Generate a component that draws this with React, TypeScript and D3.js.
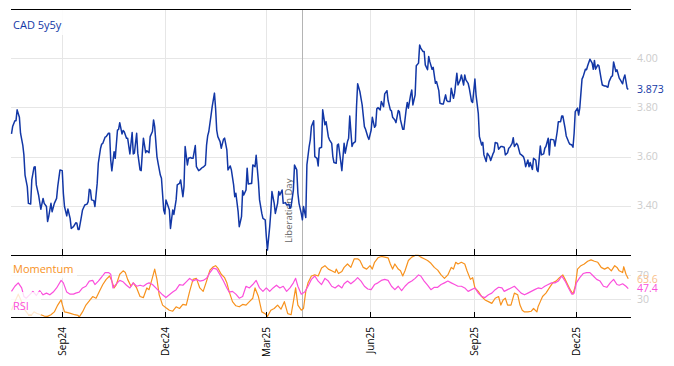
import React from "react";
import * as d3 from "d3";

// Day offsets are counted from BASE_DATE (2024-09-01)
const BASE_DATE = "2024-09-01";

const cad5y5y: [number, number][] = [
  [-45,3.692],[-44,3.722],[-42,3.746],[-41,3.746],[-40,3.790],[-38,3.760],[-37,3.695],[-35,3.647],[-34,3.607],[-33,3.525],[-31,3.478],[-30,3.410],[-28,3.407],[-27,3.505],[-25,3.557],[-24,3.559],[-23,3.485],[-21,3.444],[-19,3.386],[-17,3.430],[-16,3.410],[-14,3.397],[-13,3.336],[-12,3.356],[-10,3.410],[-9,3.376],[-7,3.410],[-5,3.430],[-4,3.478],[-2,3.546],[0,3.543],[1,3.451],[2,3.397],[4,3.359],[5,3.387],[7,3.349],[8,3.308],[10,3.315],[12,3.331],[13,3.329],[14,3.304],[15,3.304],[17,3.356],[18,3.383],[20,3.403],[22,3.407],[23,3.417],[24,3.467],[25,3.464],[26,3.424],[28,3.421],[29,3.397],[31,3.491],[32,3.573],[34,3.634],[35,3.651],[36,3.654],[38,3.679],[39,3.681],[41,3.695],[42,3.695],[43,3.586],[44,3.542],[46,3.620],[47,3.593],[49,3.708],[50,3.711],[51,3.738],[53,3.692],[54,3.706],[55,3.701],[57,3.675],[58,3.675],[60,3.611],[62,3.698],[63,3.611],[64,3.614],[66,3.695],[67,3.614],[69,3.546],[70,3.543],[71,3.614],[72,3.675],[74,3.616],[75,3.624],[77,3.616],[78,3.681],[80,3.702],[81,3.749],[82,3.722],[84,3.600],[85,3.573],[87,3.525],[88,3.512],[90,3.383],[91,3.367],[92,3.424],[94,3.397],
  [95,3.383],[96,3.308],[98,3.383],[99,3.365],[101,3.424],[102,3.485],[104,3.491],[105,3.505],[107,3.437],[108,3.478],[109,3.641],[111,3.566],[112,3.593],[114,3.596],[115,3.593],[116,3.593],[118,3.645],[119,3.559],[121,3.543],[122,3.546],[124,3.555],[125,3.557],[127,3.566],[128,3.647],[129,3.684],[130,3.702],[132,3.769],[133,3.803],[135,3.858],[136,3.797],[137,3.708],[138,3.681],[140,3.661],[141,3.634],[143,3.670],[144,3.675],[146,3.627],[147,3.546],[149,3.562],[150,3.546],[152,3.485],[153,3.437],[154,3.451],[156,3.376],[157,3.315],[159,3.356],[160,3.461],[161,3.444],[163,3.464],[164,3.553],[165,3.489],[167,3.491],[168,3.491],[169,3.566],[171,3.559],[172,3.605],[174,3.498],[175,3.424],[177,3.369],[178,3.349],[180,3.343],[181,3.275],[182,3.220],[184,3.315],[185,3.376],[186,3.458],[188,3.410],[189,3.369],[191,3.410],[192,3.458],[193,3.444],[195,3.464],[196,3.410],[198,3.413],[199,3.403],[201,3.407],[202,3.390],[203,3.399],[205,3.464],[206,3.566],[208,3.546],[209,3.451],[210,3.410],[212,3.369],[213,3.343],[214,3.397],[216,3.352],[217,3.566],[219,3.641],[220,3.668],[221,3.722],[223,3.746],[224,3.600],[226,3.593],[227,3.562],[228,3.634],[230,3.638],[231,3.790],[233,3.729],
  [234,3.742],[236,3.681],[237,3.668],[239,3.654],[240,3.600],[241,3.576],[243,3.573],[244,3.647],[245,3.651],[247,3.580],[248,3.543],[250,3.654],[251,3.614],[253,3.661],[254,3.675],[255,3.765],[257,3.641],[258,3.654],[260,3.661],[261,3.803],[262,3.896],[264,3.864],[265,3.837],[266,3.810],[268,3.722],[269,3.711],[271,3.681],[272,3.670],[274,3.708],[275,3.760],[277,3.719],[278,3.726],[279,3.794],[280,3.799],[282,3.790],[283,3.824],[285,3.803],[286,3.855],[288,3.868],[289,3.828],[291,3.790],[292,3.786],[293,3.760],[295,3.749],[296,3.738],[298,3.787],[299,3.783],[300,3.749],[302,3.711],[303,3.711],[305,3.790],[306,3.820],[307,3.797],[309,3.851],[310,3.871],[311,3.810],[313,3.851],[314,3.969],[316,3.980],[317,4.054],[318,4.041],[320,4.027],[321,4.027],[322,3.973],[324,3.953],[325,4.007],[326,3.986],[328,3.955],[329,3.963],[331,3.898],[332,3.905],[334,3.868],[335,3.817],[337,3.814],[338,3.814],[340,3.851],[341,3.828],[342,3.824],[344,3.824],[345,3.878],[347,3.837],[348,3.858],[350,3.939],[351,3.891],[353,3.912],[354,3.932],[356,3.891],[357,3.932],[358,3.912],[360,3.898],[361,3.878],[363,3.824],[364,3.820],[366,3.915],[367,3.851],[369,3.776],[370,3.681],
  [372,3.647],[373,3.658],[374,3.607],[376,3.580],[377,3.614],[379,3.600],[380,3.584],[382,3.611],[383,3.620],[384,3.657],[386,3.654],[387,3.630],[389,3.641],[390,3.641],[392,3.638],[393,3.607],[395,3.616],[396,3.634],[397,3.638],[399,3.654],[400,3.677],[401,3.641],[403,3.654],[404,3.647],[406,3.611],[407,3.608],[409,3.600],[410,3.586],[411,3.559],[413,3.586],[414,3.559],[415,3.576],[417,3.548],[418,3.593],[420,3.586],[421,3.546],[422,3.539],[424,3.643],[425,3.607],[427,3.611],[428,3.634],[429,3.641],[431,3.675],[432,3.607],[433,3.670],[434,3.670],[436,3.668],[437,3.643],[439,3.702],[440,3.742],[442,3.742],[443,3.765],[444,3.765],[446,3.715],[447,3.684],[449,3.661],[450,3.651],[452,3.647],[453,3.638],[454,3.695],[455,3.783],[457,3.797],[458,3.769],[459,3.797],[461,3.915],[462,3.925],[464,3.955],[465,3.953],[466,3.969],[468,3.996],[470,3.980],[471,3.955],[472,3.991],[473,3.955],[475,3.973],[476,3.969],[478,3.915],[479,3.891],[481,3.887],[482,3.887],[484,3.882],[485,3.905],[487,3.925],[488,3.928],[489,3.985],[491,3.946],[492,3.953],[494,3.919],[495,3.912],[497,3.896],[498,3.919],[499,3.932],[501,3.878],[502,3.873],
];

const momentum: [number, number][] = [
  [-45,12],[-42,26],[-39,38.4],[-36,26],[-33,12],[-30,4.6],[-27,4.6],[-25,9.2],[-22,6.3],[-19,4.6],[-16,2.4],[-13,1.8],[-10,4.6],[-7,9.2],[-4,20.4],[-1,28.9],[0,21.5],[2,9.2],[5,8.0],[8,6.3],[11,4.6],[14,3.5],[15,0.7],[18,9.2],[21,20.4],[24,27.2],[27,34.5],[30,31.7],[33,43.0],[36,54.2],[39,62.7],[42,68.3],[44,59.9],[46,48.6],[48,54.2],[51,71.1],[54,76.8],[56,73.9],[58,62.7],[61,51.4],[63,57.0],[66,48.6],[69,34.5],[72,32.8],[75,48.6],[77,45.8],[80,65.5],[82,79.6],[84,62.7],[86,37.3],[89,20.4],[92,15.9],[95,12.0],[98,10.3],[101,17.6],[104,14.8],[107,21.5],[110,20.4],[113,43.0],[116,62.7],[119,64.4],[122,48.6],[125,43.0],[128,59.9],[131,77.9],[134,83.5],[136,85.2],[138,81.3],[141,71.1],[144,65.5],[146,57.0],[148,43.0],[151,26.1],[154,19.3],[157,17.6],[160,21.5],[163,20.4],[166,26.1],[169,31.7],[171,48.6],[174,34.5],[177,9.2],[180,6.3],[182,1.8],[185,12.0],[188,14.8],[191,20.4],[194,13.7],[197,26.1],[200,6.3],[203,4.6],[205,26.1],[207,48.6],[209,20.4],[212,12.0],[214,14.8],[216,43.0],[218,57.0],[221,68.3],[224,70.0],[227,68.3],[230,81.3],
  [233,85.2],[236,79.6],[239,76.8],[242,73.9],[243,79.6],[245,72.3],[248,75.6],[250,82.4],[253,88.0],[256,82.4],[259,96.5],[262,96.5],[264,93.7],[267,82.4],[270,79.6],[273,85.2],[275,79.6],[277,90.8],[280,98.2],[283,100.4],[286,99.3],[289,98.2],[291,88.0],[293,79.6],[295,88.0],[298,79.6],[300,76.8],[302,68.3],[304,76.8],[307,93.7],[310,99.3],[313,102.1],[316,102.1],[318,99.3],[321,96.5],[324,93.7],[327,89.2],[330,82.4],[333,77.9],[336,70.0],[339,64.4],[342,70.0],[345,82.4],[347,79.6],[349,90.8],[351,88.0],[354,90.8],[357,88.0],[359,76.8],[362,62.7],[364,65.5],[366,48.6],[369,43.0],[372,34.5],[375,28.9],[378,26.1],[381,23.2],[384,31.7],[387,34.5],[389,20.4],[391,28.9],[393,31.7],[395,20.4],[398,20.4],[401,40.1],[404,37.3],[406,20.4],[408,12.0],[410,9.2],[413,9.2],[416,10.3],[418,14.8],[421,9.2],[422,17.6],[424,26.1],[426,34.5],[429,40.1],[432,48.6],[435,57.0],[438,59.9],[441,65.5],[444,70.0],[446,62.7],[449,51.4],[451,44.1],[453,38.4],[455,51.4],[457,79.6],[460,85.2],[463,88.0],[466,92.5],[469,94.8],[472,92.5],[475,90.8],[478,82.4],[481,79.6],[484,82.4],[487,76.8],[490,85.2],[492,82.4],[494,76.8],[497,73.9],[498,83.5],[500,71.1],[502,63.6],
];

const rsi: [number, number][] = [
  [-45,43.0],[-42,51.4],[-39,57.0],[-36,48.6],[-34,34.5],[-32,31.7],[-29,37.3],[-26,43.0],[-23,36.2],[-20,44.1],[-17,37.3],[-14,40.1],[-11,37.3],[-8,41.8],[-5,48.6],[-1,61.0],[1,57.0],[4,41.8],[7,38.4],[10,38.4],[12,40.1],[15,41.8],[18,48.6],[21,51.4],[24,59.9],[27,61.0],[29,54.2],[32,59.9],[35,66.6],[38,73.9],[41,73.9],[43,71.1],[45,48.6],[48,55.4],[51,61.0],[54,58.7],[57,53.1],[60,48.6],[63,57.0],[66,51.4],[69,53.1],[72,51.4],[75,55.4],[77,57.0],[80,54.2],[83,48.6],[86,43.0],[89,37.3],[92,32.8],[95,37.3],[98,41.8],[101,45.8],[104,54.2],[107,53.1],[110,58.7],[113,64.4],[116,59.9],[119,62.7],[122,59.9],[125,61.0],[128,64.4],[131,73.9],[134,81.3],[137,79.6],[140,70.0],[143,59.9],[146,48.6],[148,41.8],[151,43.0],[154,38.4],[157,31.7],[160,34.5],[163,51.4],[166,48.6],[169,54.2],[172,61.0],[175,48.6],[178,43.0],[181,48.6],[184,43.0],[187,48.6],[190,53.1],[193,48.6],[196,51.4],[199,43.0],[202,48.6],[205,57.0],[207,64.4],[209,51.4],[212,38.4],[215,41.8],[218,51.4],[221,62.7],[224,68.3],[227,59.9],[230,54.2],
  [233,64.4],[236,59.9],[239,51.4],[242,48.6],[245,53.1],[248,48.6],[250,55.4],[253,59.9],[256,55.4],[259,59.9],[262,65.5],[265,59.9],[268,51.4],[271,46.9],[274,45.8],[277,54.2],[280,57.0],[283,61.0],[286,62.7],[289,61.0],[292,51.4],[295,45.8],[298,51.4],[301,44.1],[304,51.4],[307,57.0],[310,59.9],[313,64.4],[316,70.0],[318,68.3],[321,59.9],[324,53.1],[327,45.8],[330,49.7],[333,49.7],[336,54.2],[339,57.0],[342,59.9],[345,57.0],[348,54.2],[351,51.4],[354,51.4],[357,48.6],[360,43.0],[363,45.8],[366,48.6],[369,40.1],[372,34.5],[375,32.8],[378,37.3],[381,40.1],[384,45.8],[387,49.7],[390,48.6],[392,43.0],[395,45.8],[398,48.6],[401,51.4],[404,45.8],[407,40.1],[410,37.3],[413,40.1],[416,43.0],[419,45.8],[422,48.6],[425,47.5],[428,51.4],[431,54.2],[434,57.0],[437,57.0],[440,59.9],[443,68.3],[446,59.9],[449,48.6],[452,38.4],[454,40.1],[456,57.0],[459,65.5],[462,72.3],[465,73.9],[468,73.9],[471,68.3],[474,62.7],[477,59.9],[480,51.4],[483,49.7],[486,57.0],[489,62.7],[492,54.2],[494,53.1],[497,55.4],[500,51.4],[502,47.4],
];

const xTickDates = ["2024-09-01", "2024-12-01", "2025-03-01", "2025-06-01", "2025-09-01", "2025-12-01"];
const xDomain = ["2024-07-18", "2026-01-18"];
const mainTicks = [3.4, 3.6, 3.8, 4.0];
const lowTicks = [30, 70];
const eventDate = "2025-04-02";
const eventLabel = "Liberation Day";
const mainTitle = "CAD 5y5y";
const momLabel = "Momentum";
const rsiLabel = "RSI";

const BLUE = "#1237a6";
const ORANGE = "#f7921e";
const PINK = "#fb4fdc";
const FONT = "'Open Sans', 'DejaVu Sans', sans-serif";

export default function App() {
  const W = 674, H = 366;
  const L = 11, R = 631;
  const topY = 9.5, midY = 255.5, botY = 317.5;
  const parse = d3.timeParse("%Y-%m-%d");
  const base = parse(BASE_DATE)!;
  const toDate = (d: number) => d3.timeDay.offset(base, d);

  const x = d3.scaleTime().domain(xDomain.map((s) => parse(s)!)).range([11.5, 630.5]);
  const yMain = d3.scaleLinear().domain([3.2, 4.2]).range([255, 9]);
  const yLow = d3.scaleLinear().domain([0, 100]).range([317.5, 256.7]);

  const mainLine = d3.line<[number, number]>().x((d) => x(toDate(d[0]))).y((d) => yMain(d[1]));
  const lowLine = d3.line<[number, number]>().x((d) => x(toDate(d[0]))).y((d) => yLow(d[1]));

  const fmtX = d3.timeFormat("%b%y");
  const ticks = xTickDates.map((s) => parse(s)!);
  const evX = Math.round(x(parse(eventDate)!)) + 0.5;

  const lastMain = cad5y5y[cad5y5y.length - 1][1];
  const lastMom = momentum[momentum.length - 1][1];
  const lastRsi = rsi[rsi.length - 1][1];

  return (
    <svg width={W} height={H} style={{ position: "absolute", left: 0, top: 0, background: "#fff" }} fontFamily={FONT}>
      {/* vertical grid */}
      {ticks.map((t, i) => {
        const xx = Math.round(x(t)) + 0.5;
        return <line key={"vg" + i} x1={xx} x2={xx} y1={topY} y2={botY} stroke="#e6e6e6" strokeWidth={1} />;
      })}
      {/* horizontal grid main */}
      {mainTicks.map((v, i) => {
        const yy = Math.round(yMain(v)) + 0.5;
        return <line key={"hg" + i} x1={L} x2={R} y1={yy} y2={yy} stroke="#e6e6e6" strokeWidth={1} />;
      })}
      {lowTicks.map((v, i) => {
        const yy = Math.round(yLow(v)) + 0.5;
        return <line key={"lg" + i} x1={L} x2={R} y1={yy} y2={yy} stroke="#e6e6e6" strokeWidth={1} />;
      })}
      {/* event line */}
      <line x1={evX} x2={evX} y1={topY} y2={botY} stroke="#b4b4b4" strokeWidth={1} />
      <text transform={`translate(${evX - 10.5},243) rotate(-90)`} fontSize={9.5} fill="#666">{eventLabel}</text>

      {/* series */}
      <path d={mainLine(cad5y5y) || ""} fill="none" stroke={BLUE} strokeWidth={1.5} strokeLinejoin="round" />
      <path d={lowLine(momentum) || ""} fill="none" stroke={ORANGE} strokeWidth={1.2} strokeLinejoin="round" />
      <path d={lowLine(rsi) || ""} fill="none" stroke={PINK} strokeWidth={1.2} strokeLinejoin="round" />

      {/* label boxes */}
      <rect x={L} y={10} width={53} height={25} fill="#fff" fillOpacity={0.85} />
      <text x={13} y={29} fontSize={11} fill={BLUE}>{mainTitle}</text>
      <rect x={L} y={258} width={66} height={20} fill="#fff" fillOpacity={0.8} />
      <text x={13} y={273} fontSize={11} fill={ORANGE}>{momLabel}</text>
      <rect x={L} y={292} width={30} height={23} fill="#fff" fillOpacity={0.8} />
      <text x={13} y={310} fontSize={11} fill={PINK}>{rsiLabel}</text>

      {/* borders */}
      <line x1={L} x2={R} y1={topY} y2={topY} stroke="#000" strokeWidth={1} />
      <line x1={L} x2={R} y1={midY} y2={midY} stroke="#000" strokeWidth={1} />
      <line x1={L} x2={R} y1={botY} y2={botY} stroke="#000" strokeWidth={1} />

      {/* ticks */}
      {ticks.map((t, i) => {
        const xx = Math.round(x(t)) + 0.5;
        return (
          <g key={"tk" + i}>
            <line x1={xx} x2={xx} y1={249} y2={midY} stroke="#000" strokeWidth={1} />
            <line x1={xx} x2={xx} y1={312} y2={botY} stroke="#000" strokeWidth={1} />
            <text transform={`translate(${xx + 3.5},327) rotate(-90)`} textAnchor="end" fontSize={10} fill="#000">{fmtX(t)}</text>
          </g>
        );
      })}

      {/* right labels */}
      {mainTicks.map((v, i) => (
        <text key={"ml" + i} x={637} y={yMain(v)} dy="0.35em" fontSize={10.5} fill="#cccccc">{d3.format(".2f")(v)}</text>
      ))}
      <text x={637} y={yMain(lastMain)} dy="0.35em" fontSize={10.5} fill={BLUE}>{d3.format(".3f")(lastMain)}</text>
      {lowTicks.map((v, i) => (
        <text key={"ll" + i} x={637} y={yLow(v)} dy="0.35em" fontSize={10.5} fill="#cccccc">{v}</text>
      ))}
      <text x={637} y={yLow(lastMom)} dy="0.35em" fontSize={10.5} fill="#f9c08a">{d3.format(".1f")(lastMom)}</text>
      <text x={637} y={yLow(lastRsi)} dy="0.35em" fontSize={10.5} fill={PINK}>{d3.format(".1f")(lastRsi)}</text>
    </svg>
  );
}
